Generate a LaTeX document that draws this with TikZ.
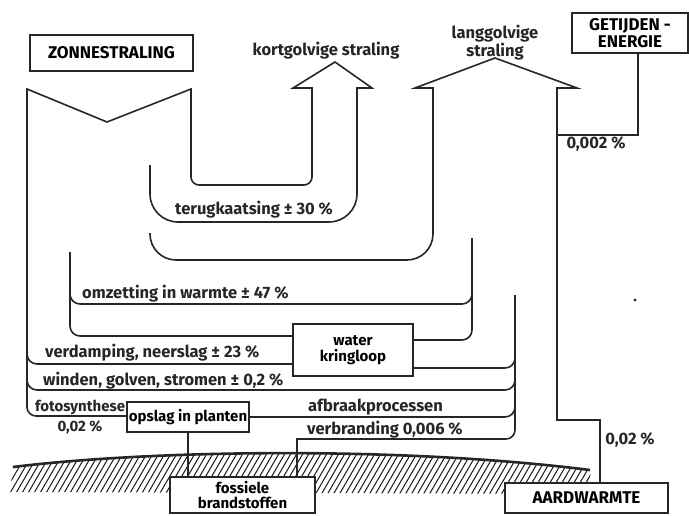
\documentclass[tikz,border=0pt]{standalone}
\usepackage{fontspec}
\setmainfont{Fira Sans}
\usepackage{tikz}
\usetikzlibrary{backgrounds}
\colorlet{colorFlow}{black!85}
\colorlet{colorHatch}{black!90}
\newcommand{\capsfont}{\bfseries\fontsize{17}{17.5}\selectfont}
\newcommand{\bigfont}{\bfseries\fontsize{16.5}{17}\selectfont}
\newcommand{\midfont}{\bfseries\fontsize{15}{16}\selectfont}
\tikzset{
   flow/.style={draw=colorFlow,line width=1.6pt},
   box/.style={draw=colorFlow,line width=1.6pt,fill=white,inner sep=0pt,align=center,font=\capsfont},
   lbl/.style={inner sep=0pt,align=center,font=\bigfont,text=colorFlow},
   mlbl/.style={lbl,font=\midfont},
   ground/.style={draw=colorFlow,line width=2.6pt},
   hatch/.style={draw=colorHatch,line width=1pt},
}

\begin{document}
\begin{tikzpicture}[x=1pt,y=-1pt]
  \useasboundingbox (0,0) rectangle (689,515);

  \node[box,minimum width=163pt,minimum height=36pt] (zon)    at (111.5, 53) {ZONNESTRALING};
  \node[box,minimum width=116pt,minimum height=40pt] (getij)  at (630,   33) {GETIJDEN -\\ENERGIE};
  \node[box,minimum width=120pt,minimum height=52pt,font=\midfont] (water)  at (353,  350) {water\\kringloop};
  \node[box,minimum width=122pt,minimum height=30pt,font=\midfont] (opslag) at (188,  417) {opslag in planten};
  \node[box,minimum width=145pt,minimum height=36pt,font=\midfont] (foss)   at (242.5,495) {fossiele\\[-1pt]brandstoffen};
  \node[box,minimum width=163pt,minimum height=30pt] (aard)   at (586.5,498) {AARDWARMTE};

  \node[lbl]  (kort)  at (326,  51) {kortgolvige straling};
  \node[lbl]  (lang)  at (495,  43) {langgolvige\\straling};
  \node[lbl,anchor=west]  (terug) at (175, 210) {terugkaatsing ± 30 \%};
  \node[lbl,anchor=west]  (omz)   at (82,  294) {omzetting in warmte ± 47 \%};
  \node[lbl,anchor=west]  (verd)  at (45,  353) {verdamping, neerslag ± 23 \%};
  \node[lbl,anchor=west]  (wind)  at (43,  381) {winden, golven, stromen ± 0,2 \%};
  \node[mlbl,anchor=west] (foto)  at (35,  407) {fotosynthese};
  \node[mlbl] (fotop) at (80,  427) {0,02 \%};
  \node[lbl,anchor=west]  (afbr)  at (308, 407) {afbraakprocessen};
  \node[lbl,anchor=west]  (verbr) at (307, 430) {verbranding 0,006 \%};
  \node[lbl]  (getp)  at (596, 144) {0,002 \%};
  \node[lbl]  (aardp) at (630, 440) {0,02 \%};

  % zonnestraling in, kortgolvig terug
  \draw[flow] (150,165) [rounded corners=28pt] -- (150,222) -- (357,222) -- (357,150)
    [sharp corners] -- (357,88) -- (372,88) -- (335,62) -- (293,88) -- (312,88) -- (312,130)
    [rounded corners=8pt] -- (312,185) -- (191,185) -- (191,130)
    [sharp corners] -- (191,89) -- (107,122) -- (27,89) -- (27,300)
    [rounded corners=9pt] -- (27,416) -- ([yshift=1pt]opslag.west);

  % langgolvig
  \draw[flow] (150,233) [rounded corners=26pt] -- (150,260) -- (433,260) -- (433,180)
    [sharp corners] -- (433,88) -- (415,88) -- (495,58) -- (577,88) -- (557,88)
    -- (557,420) -- (600,420) -- ([xshift=13.5pt]aard.north);
  \draw[flow] ([xshift=8pt]getij.south) |- (557,135);

  % warmte en waterkringloop
  \draw[flow,rounded corners=10pt] (70,252) -- (70,336) -- ([yshift=14pt]water.west);
  \draw[flow,rounded corners=10pt] (70,284) -- (70,304) -- (472,304) -- (472,284);
  \draw[flow,rounded corners=10pt] (472,238) -- (472,340) -- ([yshift=10pt]water.east);
  \draw[flow,rounded corners=10pt] (27,345) -- (27,364) -- ([yshift=-14pt]water.west);
  \draw[flow,rounded corners=10pt] ([yshift=-18pt]water.east) -- (515,368) -- (515,350);
  \draw[flow,rounded corners=10pt] (27,372) -- (27,390) -- (515,390) -- (515,372);
  \draw[flow,rounded corners=10pt] (opslag.east) -- (515,417) -- (515,400);
  \draw[flow] (515,295) -- (515,400) [rounded corners=9pt] -- (515,439) -- (400,439)
    [sharp corners] -- (297,439) -- ([xshift=54.5pt]foss.north);
  \draw[flow] (opslag.south) -- (opslag.south |- foss.north);

  % aarde
  \draw[ground] (13,467) .. controls (150,450) and (400,446) .. (590,470);
  \fill[colorFlow] (635,300) circle (1.6pt);

  \begin{scope}[on background layer]
    \clip (13,467) .. controls (150,450) and (400,446) .. (590,470)
      -- (592,494) -- (10,492) -- cycle;
    \foreach \x in {-30,-24,...,600}
      \draw[hatch] (\x,500) -- ++(29,-50);
  \end{scope}
\end{tikzpicture}
\end{document}
